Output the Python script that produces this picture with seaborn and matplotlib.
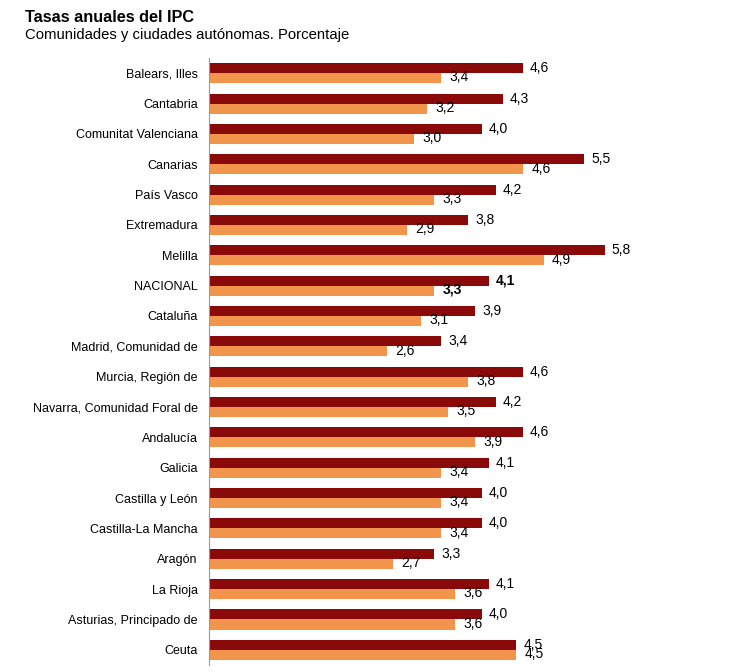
import seaborn as sns
import matplotlib.pyplot as plt
import pandas as pd
import numpy as np

regiones = ["Balears, Illes", "Cantabria", "Comunitat Valenciana", "Canarias",
            "País Vasco", "Extremadura", "Melilla", "NACIONAL", "Cataluña",
            "Madrid, Comunidad de", "Murcia, Región de",
            "Navarra, Comunidad Foral de", "Andalucía", "Galicia",
            "Castilla y León", "Castilla-La Mancha", "Aragón", "La Rioja",
            "Asturias, Principado de", "Ceuta"]
serie_a = [4.6, 4.3, 4.0, 5.5, 4.2, 3.8, 5.8, 4.1, 3.9, 3.4,
           4.6, 4.2, 4.6, 4.1, 4.0, 4.0, 3.3, 4.1, 4.0, 4.5]
serie_b = [3.4, 3.2, 3.0, 4.6, 3.3, 2.9, 4.9, 3.3, 3.1, 2.6,
           3.8, 3.5, 3.9, 3.4, 3.4, 3.4, 2.7, 3.6, 3.6, 4.5]
series = ["a", "b"]
colores = ["#8A0A0A", "#F0954B"]

df = pd.DataFrame({
    "region": regiones * 2,
    "valor": serie_a + serie_b,
    "serie": [series[0]] * len(regiones) + [series[1]] * len(regiones),
})

sns.set_theme(style="white")
plt.rcParams['font.family'] = ['Liberation Sans', 'DejaVu Sans']
plt.rcParams['text.color'] = 'black'

fig = plt.figure(figsize=(7.42, 6.72), dpi=100)
ax = fig.add_axes([0.2817, 0.0104, 0.69, 0.9033])

sns.barplot(data=df, y="region", x="valor", hue="serie", orient="h",
            palette=colores, width=0.66, dodge=True, legend=False,
            edgecolor="none", saturation=1, ax=ax)

ax.set_xlim(0, 7.5)
ax.set_ylim(len(regiones) - 0.5, -0.5)
ax.set_xlabel("")
ax.set_ylabel("")
ax.set_xticks([])

for s in ["top", "right", "bottom"]:
    ax.spines[s].set_visible(False)
ax.spines["left"].set_color("#999999")
ax.spines["left"].set_linewidth(0.8)

ax.tick_params(axis="y", which="major", length=0, pad=8, labelsize=9,
               labelcolor="black")
ax.set_yticks(np.arange(len(regiones) + 1) - 0.5, minor=True)
ax.tick_params(axis="y", which="minor", length=3, color="#999999", width=0.8,
               direction="out")

# etiquetas de valor con coma decimal
for cont, vals, dy, pad in zip(ax.containers, [serie_a, serie_b], [0, 0.5], [5, 6]):
    labs = [f"{v:.1f}".replace(".", ",") for v in vals]
    anns = ax.bar_label(cont, labels=labs, padding=pad, fontsize=10,
                        color="black")
    for ann, reg in zip(anns, regiones):
        ann.xyann = (ann.xyann[0], dy)
        if reg == "NACIONAL":
            ann.set_fontweight("bold")

fig.text(25 / 742, 1 - 17 / 672, "Tasas anuales del IPC", fontsize=11.7,
         fontweight="bold", va="center", ha="left")
fig.text(25 / 742, 1 - 34.5 / 672, "Comunidades y ciudades autónomas. Porcentaje",
         fontsize=10.7, va="center", ha="left")

plt.savefig("out.png", dpi=100)
